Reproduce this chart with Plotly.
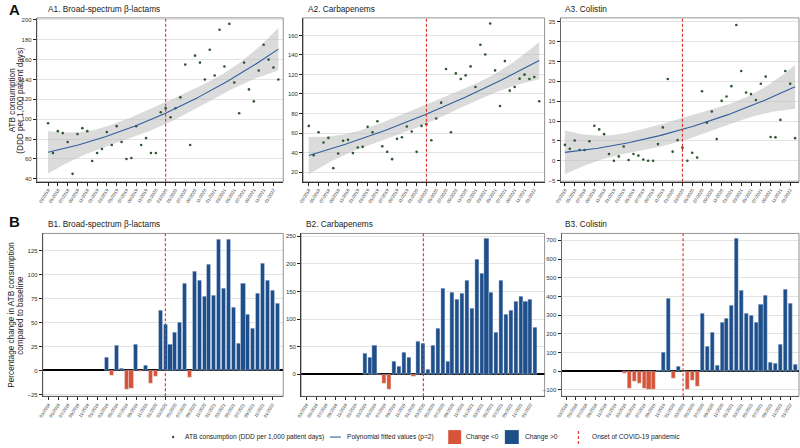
import numpy as np
import plotly.graph_objects as go

# ---------------- data ----------------
# monthly index 0..47 : 03/2018 .. 02/2022
month_index = list(range(48))
tick_index = list(range(0, 48, 2))
tick_labels = ["03/2018", "05/2018", "07/2018", "09/2018", "11/2018", "01/2019",
               "03/2019", "05/2019", "07/2019", "09/2019", "11/2019", "01/2020",
               "03/2020", "05/2020", "07/2020", "09/2020", "11/2020", "01/2021",
               "03/2021", "05/2021", "07/2021", "09/2021", "11/2021", "01/2022"]
covid_onset = 24  # 03/2020

a1_beta_lactams = [96, 66, 88, 86, 77, 45, 85, 91, 88, 58, 66, 70, 87, 74, 93, 77, 60, 61, 93, 74,
                   81, 66, 66, 107, 111, 102, 111, 122, 155, 74, 164, 157, 140, 170, 144, 190, 153, 196, 137, 106,
                   157, 130, 118, 149, 175, 160, 152, 140]
a2_carbapenems = [67.3, 37.3, 60.8, 50.3, 55.0, 24.0, 39.0, 52.0, 53.0, 39.4, 45.1, 45.8, 66.3, 60.8, 72.1, 46.5,
                  40.7, 33.2, 54.0, 55.7, 66.6, 61.5, 40.7, 67.3, 69.0, 52.6, 74.8, 91.1, 125.6, 60.8, 121.1, 115.3,
                  119.1, 128.3, 107.2, 150.4, 140.5, 172.2, 124.2, 87.7, 133.7, 103.4, 107.2, 115.7, 119.8, 115.3,
                  117.4, 92.5]
a3_colistin = [4.0, 3.0, 5.1, 2.7, 2.7, 4.9, 8.8, 7.9, 6.7, 1.7, 0.0, 1.1, 3.6, 0.2, 1.7, 1.3, 0.3, 0.0, 0.0, 4.2,
               8.4, 20.6, 2.3, 5.2, 3.3, 0.0, 2.0, 0.8, 17.5, 9.6, 12.4, 5.5, 15.1, 16.2, 18.8, 34.2, 22.6, 17.2,
               16.8, 15.3, 19.4, 21.2, 6.0, 5.9, 10.3, 22.6, 19.4, 5.7]

# percentage change vs baseline, months 03/2019 .. 02/2022 (index 12..47)
bar_index = list(range(12, 48))
b1_beta_lactams = [14, -5, 26, 2, -20, -19, 27, -1, 5, -14, -6, 63, 48, 27, 40, 50, 91, -7, 103, 94,
                   77, 111, 78, 137, 86, 137, 66, 28, 91, 58, 44, 80, 112, 94, 84, 70]
b2_carbapenems = [37, 30, 53, 0, -16, -28, 24, 15, 40, 30, -4, 59, 56, 9, 53, 83, 156, 24, 149, 135,
                  146, 169, 120, 208, 183, 246, 149, 76, 169, 108, 115, 132, 141, 132, 136, 85]
b3_colistin = [-10, -95, -55, -64, -91, -100, -100, 3, 100, 388, -40, 25, 0, -100, -50, -80, 311, 130, 207, 33,
               260, 283, 353, 708, 433, 308, 300, 263, 358, 403, 45, 40, 145, 437, 360, 35]

titles_a = ["A1. Broad-spectrum β-lactams", "A2. Carbapenems", "A3. Colistin"]
titles_b = ["B1. Broad-spectrum β-lactams", "B2. Carbapenems", "B3. Colistin"]

# ---------------- style ----------------
W, H = 800, 448
FONT = "Liberation Sans"
PT_COLOR = "#2d582d"
FIT_COLOR = "#2f5f9e"
BAND = "rgba(190,190,190,0.55)"
POS = "#1f4f8b"
NEG = "#d6553a"
DASH_RED = "#d9302a"
GRID = "#e3e3e3"


def px(x):
    return x / W


def py(y):
    return 1 - y / H


fig = go.Figure()

panels = [
    dict(x0=32, x1=280, top=17, bot=182, xr=[-2.3, 48.0], yr=[37, 202], ytv=list(range(40, 201, 20))),
    dict(x0=300, x1=543, top=17, bot=182, xr=[-1.15, 48.1], yr=[10, 178], ytv=list(range(20, 161, 20))),
    dict(x0=559, x1=799, top=17, bot=182, xr=[-0.9, 47.8], yr=[-5.3, 36], ytv=list(range(-5, 36, 5))),
    dict(x0=38, x1=280, top=234, bot=398, xr=[-1.16, 48.2], yr=[-27, 143], ytv=list(range(-25, 126, 25))),
    dict(x0=298, x1=543, top=234, bot=398, xr=[-1.1, 48.9], yr=[-40, 255], ytv=list(range(0, 251, 50))),
    dict(x0=560, x1=799, top=234, bot=398, xr=[-0.96, 47.8], yr=[-135, 737], ytv=list(range(-100, 701, 100))),
]

series_a = [a1_beta_lactams, a2_carbapenems, a3_colistin]
series_b = [b1_beta_lactams, b2_carbapenems, b3_colistin]


def quad_fit(t, y):
    t = np.asarray(t, float)
    y = np.asarray(y, float)
    X = np.column_stack([np.ones_like(t), t, t ** 2])
    beta, *_ = np.linalg.lstsq(X, y, rcond=None)
    res = y - X @ beta
    n = len(y)
    s2 = res @ res / (n - 3)
    cov = s2 * np.linalg.inv(X.T @ X)
    tg = np.linspace(t.min(), t.max(), 120)
    Xg = np.column_stack([np.ones_like(tg), tg, tg ** 2])
    fit = Xg @ beta
    se = np.sqrt(np.einsum("ij,jk,ik->i", Xg, cov, Xg))
    tcrit = 2.014
    return tg, fit, fit - tcrit * se, fit + tcrit * se


for i, ser in enumerate(series_a):
    xa = "x" if i == 0 else f"x{i+1}"
    ya = "y" if i == 0 else f"y{i+1}"
    tg, fit, lo, hi = quad_fit(month_index, ser)
    fig.add_trace(go.Scatter(x=np.concatenate([tg, tg[::-1]]), y=np.concatenate([hi, lo[::-1]]),
                             fill="toself", fillcolor=BAND, line=dict(width=0), hoverinfo="skip",
                             showlegend=False, xaxis=xa, yaxis=ya))
    fig.add_trace(go.Scatter(x=month_index, y=ser, mode="markers",
                             marker=dict(size=2.6, color=PT_COLOR), showlegend=False, xaxis=xa, yaxis=ya))
    fig.add_trace(go.Scatter(x=tg, y=fit, mode="lines", line=dict(color=FIT_COLOR, width=1.1),
                             showlegend=False, xaxis=xa, yaxis=ya))

for i, ser in enumerate(series_b):
    k = i + 4
    xa, ya = f"x{k}", f"y{k}"
    colors = [POS if v >= 0 else NEG for v in ser]
    fig.add_trace(go.Bar(x=bar_index, y=ser, width=0.84,
                         marker=dict(color=colors, line=dict(color="rgba(235,240,250,0.7)", width=0.5)),
                         showlegend=False, xaxis=xa, yaxis=ya))

layout = dict(width=W, height=H, margin=dict(l=0, r=0, t=0, b=0),
              paper_bgcolor="white", plot_bgcolor="white", showlegend=False,
              font=dict(family=FONT, color="#222"), bargap=0)

shapes = []
annotations = []
for i, p in enumerate(panels):
    k = i + 1
    xk = "xaxis" if k == 1 else f"xaxis{k}"
    yk = "yaxis" if k == 1 else f"yaxis{k}"
    xref = "x" if k == 1 else f"x{k}"
    yref = "y" if k == 1 else f"y{k}"
    layout[xk] = dict(domain=[px(p["x0"]), px(p["x1"])], anchor=yref, range=p["xr"],
                      tickvals=tick_index, ticktext=tick_labels, tickangle=-58,
                      tickfont=dict(size=4.4, color="#333"), ticks="outside", ticklen=3,
                      tickcolor="#222", tickwidth=0.8, showgrid=False, zeroline=False,
                      showline=True, linecolor="#222", linewidth=1)
    layout[yk] = dict(domain=[py(p["bot"]), py(p["top"])], anchor=xref, range=p["yr"],
                      tickvals=p["ytv"], tickfont=dict(size=6, color="#333"), ticks="outside",
                      ticklen=3, tickcolor="#222", tickwidth=0.8, showgrid=True, gridcolor=GRID,
                      gridwidth=0.8, zeroline=(i >= 3), zerolinecolor="#000", zerolinewidth=1.6,
                      showline=True, linecolor="#222", linewidth=1)
    shapes.append(dict(type="rect", xref=f"{xref} domain", yref=f"{yref} domain",
                       x0=0, x1=1, y0=0, y1=1, line=dict(color="#777", width=0.8), layer="above"))
    shapes.append(dict(type="line", xref=xref, yref=f"{yref} domain", x0=covid_onset, x1=covid_onset,
                       y0=0, y1=1, line=dict(color=DASH_RED, width=1.1, dash="3px,2px"), layer="above"))

for i, t in enumerate(titles_a):
    annotations.append(dict(text=t, x=px([41, 303, 562][i]), y=py(8), xref="paper", yref="paper",
                            xanchor="left", yanchor="middle", showarrow=False,
                            font=dict(size=8.3, color="#222")))
for i, t in enumerate(titles_b):
    annotations.append(dict(text=t, x=px([41, 301, 562][i]), y=py(224), xref="paper", yref="paper",
                            xanchor="left", yanchor="middle", showarrow=False,
                            font=dict(size=8.3, color="#222")))

annotations.append(dict(text="<b>A</b>", x=px(2), y=py(9), xref="paper", yref="paper", xanchor="left",
                        yanchor="middle", showarrow=False, font=dict(size=15, color="#111")))
annotations.append(dict(text="<b>B</b>", x=px(2), y=py(222), xref="paper", yref="paper", xanchor="left",
                        yanchor="middle", showarrow=False, font=dict(size=15, color="#111")))

# y-axis titles, one annotation per line for tight spacing
ytitles = [("ATB consumption", 7.0, 100), ("(DDD per 1,000 patient days)", 15.5, 100),
           ("Percentage change in ATB consumption", 6.8, 316), ("compared to baseline", 16.0, 316)]
for txt, xx, yy in ytitles:
    annotations.append(dict(text=txt, x=px(xx), y=py(yy), xref="paper", yref="paper", textangle=-90,
                            showarrow=False, xanchor="center", yanchor="middle",
                            font=dict(size=8.2, color="#222")))

ly = py(439)
leg_font = dict(size=6.6, color="#222")
shapes.append(dict(type="circle", xref="paper", yref="paper", x0=px(168), x1=px(170.4),
                   y0=py(440.2), y1=py(437.8), fillcolor=PT_COLOR, line=dict(width=0)))
annotations.append(dict(text="ATB consumption (DDD per 1,000 patient days)", x=px(179), y=ly,
                        xref="paper", yref="paper", xanchor="left", yanchor="middle",
                        showarrow=False, font=leg_font))
shapes.append(dict(type="line", xref="paper", yref="paper", x0=px(327), x1=px(338), y0=ly, y1=ly,
                   line=dict(color=FIT_COLOR, width=1.1)))
annotations.append(dict(text="Polynomial fitted values (p=2)", x=px(342), y=ly, xref="paper",
                        yref="paper", xanchor="left", yanchor="middle", showarrow=False, font=leg_font))
shapes.append(dict(type="rect", xref="paper", yref="paper", x0=px(446), x1=px(459), y0=py(446),
                   y1=py(432), fillcolor=NEG, line=dict(width=0)))
annotations.append(dict(text="Change <0", x=px(462), y=ly, xref="paper", yref="paper", xanchor="left",
                        yanchor="middle", showarrow=False, font=leg_font))
shapes.append(dict(type="rect", xref="paper", yref="paper", x0=px(503), x1=px(517), y0=py(446),
                   y1=py(432), fillcolor=POS, line=dict(width=0)))
annotations.append(dict(text="Change >0", x=px(521), y=ly, xref="paper", yref="paper", xanchor="left",
                        yanchor="middle", showarrow=False, font=leg_font))
shapes.append(dict(type="line", xref="paper", yref="paper", x0=px(577), x1=px(577), y0=py(446),
                   y1=py(432), line=dict(color=DASH_RED, width=1.1, dash="3px,2px")))
annotations.append(dict(text="Onset of COVID-19 pandemic", x=px(589), y=ly, xref="paper", yref="paper",
                        xanchor="left", yanchor="middle", showarrow=False, font=leg_font))

layout["shapes"] = shapes
layout["annotations"] = annotations
fig.update_layout(**layout)

fig.write_html("out.html", config={"displayModeBar": False})

# remove default page margins so the 800x448 figure fills the window exactly
with open("out.html", "r", encoding="utf-8") as f:
    html = f.read()
html = html.replace("<head>", "<head><style>html,body{margin:0;padding:0;overflow:hidden;}</style>", 1)
with open("out.html", "w", encoding="utf-8") as f:
    f.write(html)
